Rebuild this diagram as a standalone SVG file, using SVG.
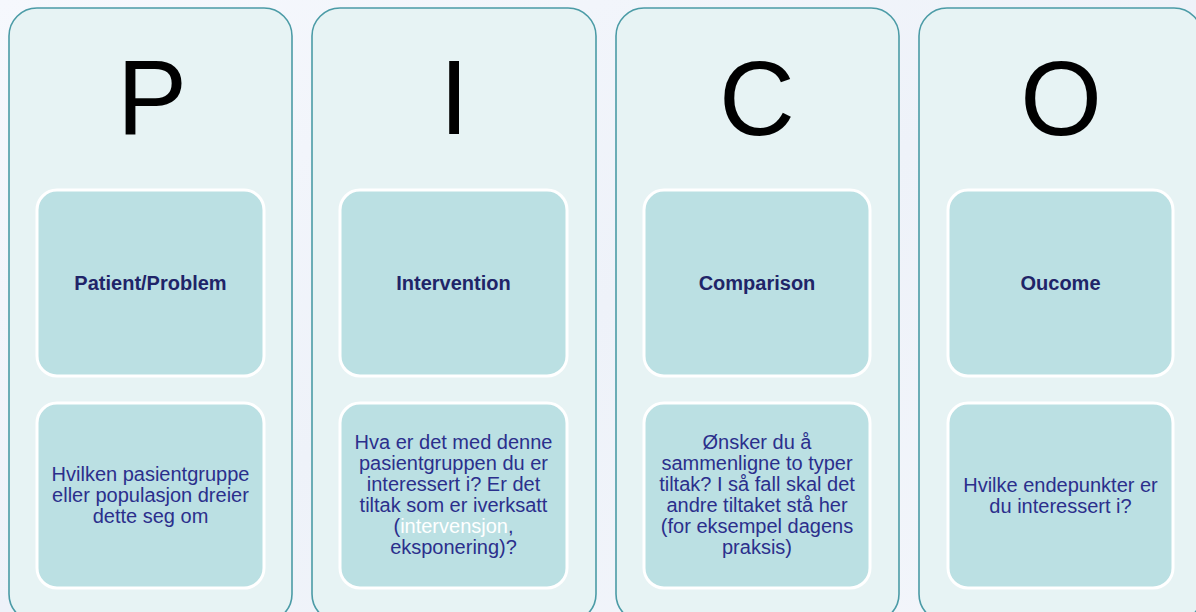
<svg xmlns="http://www.w3.org/2000/svg" width="1196" height="612" viewBox="0 0 1196 612">
<defs>
<linearGradient id="bg" x1="0" y1="0" x2="1" y2="1">
<stop offset="0" stop-color="#f6f8fd"/>
<stop offset="0.5" stop-color="#eef2f9"/>
<stop offset="1" stop-color="#f3f6fb"/>
</linearGradient>
</defs>
<style>
.panel{fill:#e7f3f4;stroke:#4b9ba6;stroke-width:1.6}
.box{fill:#bbe0e3;stroke:#ffffff;stroke-width:3}
.big{font-family:"Liberation Sans",Arial,sans-serif;font-size:105px;fill:#000;text-anchor:middle}
.head{font-family:"Liberation Sans",Arial,sans-serif;font-size:20px;font-weight:bold;fill:#1f2468;text-anchor:middle}
.body{font-family:"Liberation Sans",Arial,sans-serif;font-size:20px;fill:#2b2f8c;text-anchor:middle}
.white{fill:#ffffff}
</style>
<rect width="1196" height="612" fill="url(#bg)"/>
<g id="P">
<rect class="panel" x="9" y="8" width="283" height="614" rx="28"/>
<text class="big" x="152" y="134">P</text>
<rect class="box" x="37" y="190" width="227" height="186" rx="20"/>
<text class="head" x="150.5" y="290">Patient/Problem</text>
<rect class="box" x="37" y="403" width="227" height="185" rx="20"/>
<text class="body" x="150.5" y="481">Hvilken pasientgruppe</text>
<text class="body" x="150.5" y="502">eller populasjon dreier</text>
<text class="body" x="150.5" y="523">dette seg om</text>
</g>
<g id="I">
<rect class="panel" x="312" y="8" width="284" height="614" rx="28"/>
<text class="big" x="454" y="134">I</text>
<rect class="box" x="340" y="190" width="227" height="186" rx="20"/>
<text class="head" x="453.5" y="290">Intervention</text>
<rect class="box" x="340" y="403" width="227" height="185" rx="20"/>
<text class="body" x="453.5" y="449">Hva er det med denne</text>
<text class="body" x="453.5" y="470">pasientgruppen du er</text>
<text class="body" x="453.5" y="491">interessert i? Er det</text>
<text class="body" x="453.5" y="512">tiltak som er iverksatt</text>
<text class="body" x="453.5" y="533">(<tspan class="white">intervensjon</tspan>,</text>
<text class="body" x="453.5" y="554">eksponering)?</text>
</g>
<g id="C">
<rect class="panel" x="616" y="8" width="283" height="614" rx="28"/>
<text class="big" x="757" y="135">C</text>
<rect class="box" x="644" y="190" width="226" height="186" rx="20"/>
<text class="head" x="757" y="290">Comparison</text>
<rect class="box" x="644" y="403" width="226" height="185" rx="20"/>
<text class="body" x="757" y="449">Ønsker du å</text>
<text class="body" x="757" y="470">sammenligne to typer</text>
<text class="body" x="757" y="491">tiltak? I så fall skal det</text>
<text class="body" x="757" y="512">andre tiltaket stå her</text>
<text class="body" x="757" y="533">(for eksempel dagens</text>
<text class="body" x="757" y="554">praksis)</text>
</g>
<g id="O">
<rect class="panel" x="919" y="8" width="283" height="614" rx="28"/>
<text class="big" x="1061" y="135">O</text>
<rect class="box" x="948" y="190" width="225" height="186" rx="20"/>
<text class="head" x="1060.5" y="290">Oucome</text>
<rect class="box" x="948" y="403" width="225" height="185" rx="20"/>
<text class="body" x="1060.5" y="492">Hvilke endepunkter er</text>
<text class="body" x="1060.5" y="513">du interessert i?</text>
</g>
<g id="connectors"/>
</svg>
